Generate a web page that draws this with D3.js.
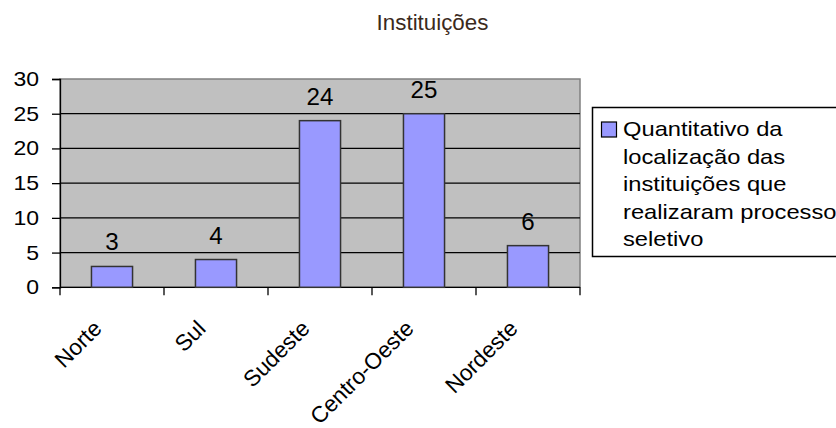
<!DOCTYPE html>
<html>
<head>
<meta charset="utf-8">
<script src="https://cdn.jsdelivr.net/npm/d3@7"></script>
<style>
  html, body { margin: 0; padding: 0; background: #ffffff; }
  svg { display: block; }
  text { font-family: "Liberation Sans", Arial, sans-serif; }
</style>
</head>
<body>
<svg id="chart" width="836" height="428"></svg>
<script>
// Regions and the number of institutions in each
const categories = ["Norte", "Sul", "Sudeste", "Centro-Oeste", "Nordeste"];
const values = [3, 4, 24, 25, 6];
const yTicks = [0, 5, 10, 15, 20, 25, 30];
const titleText = "Instituições";
const legendLines = ["Quantitativo da", "localização das", "instituições que", "realizaram processo", "seletivo"];

const svg = d3.select("#chart");

const plot = { left: 60, right: 580, top: 79, bottom: 287.3 };

const x = d3.scaleBand().domain(categories).range([plot.left, plot.right]);
const y = d3.scaleLinear().domain([0, 30]).range([plot.bottom, plot.top]);
const barW = x.bandwidth() * 0.395;

// text placed in a group so it can be widened horizontally
function label(parent, px, py, sx, str, opts) {
  const g = parent.append("g")
    .attr("transform", `translate(${px},${py}) scale(${sx},1)` + (opts.rotate ? ` rotate(${opts.rotate})` : ""));
  return g.append("text")
    .attr("x", 0).attr("y", 0)
    .attr("text-anchor", opts.anchor || "start")
    .attr("font-size", opts.size)
    .attr("fill", opts.fill || "#000")
    .text(str);
}

// title
label(svg, 432.5, 30, 1.04, titleText, { anchor: "middle", size: 21.5, fill: "#3b2a1c" });

// plot background
svg.append("rect")
  .attr("x", plot.left).attr("y", plot.top)
  .attr("width", plot.right - plot.left).attr("height", plot.bottom - plot.top)
  .attr("fill", "#c0c0c0")
  .attr("stroke", "#808080").attr("stroke-width", 1.5);

// horizontal gridlines
svg.append("g").selectAll("line")
  .data(yTicks.filter(t => t > 0 && t < 30))
  .join("line")
  .attr("x1", plot.left).attr("x2", plot.right)
  .attr("y1", d => y(d)).attr("y2", d => y(d))
  .attr("stroke", "#000").attr("stroke-width", 1.2);

// y axis
const yAxis = svg.append("g")
  .attr("transform", `translate(${plot.left},0)`)
  .call(d3.axisLeft(y).tickValues(yTicks).tickSize(8).tickFormat(""));
yAxis.select(".domain").attr("stroke", "#000").attr("stroke-width", 1.3);
yAxis.selectAll(".tick line").attr("stroke", "#000").attr("stroke-width", 1.3);

const yLabels = svg.append("g");
yTicks.forEach(t => {
  label(yLabels, 39, y(t) + 7, 1.15, String(t), { anchor: "end", size: 20 });
});

// x axis line and ticks at category boundaries
const bounds = categories.map(c => x(c)).concat([plot.right]);
svg.append("line")
  .attr("x1", plot.left).attr("x2", plot.right)
  .attr("y1", plot.bottom).attr("y2", plot.bottom)
  .attr("stroke", "#000").attr("stroke-width", 1.3);
svg.append("g").selectAll("line")
  .data(bounds)
  .join("line")
  .attr("x1", d => d).attr("x2", d => d)
  .attr("y1", plot.bottom).attr("y2", plot.bottom + 8)
  .attr("stroke", "#000").attr("stroke-width", 1.3);

// bars
const data = categories.map((c, i) => ({ cat: c, val: values[i] }));
svg.append("g").selectAll("rect")
  .data(data)
  .join("rect")
  .attr("x", d => x(d.cat) + (x.bandwidth() - barW) / 2)
  .attr("y", d => y(d.val))
  .attr("width", barW)
  .attr("height", d => y(0) - y(d.val))
  .attr("fill", "#9999ff")
  .attr("stroke", "#333333").attr("stroke-width", 1.5);

// value labels
const vLabels = svg.append("g");
data.forEach(d => {
  label(vLabels, x(d.cat) + x.bandwidth() / 2, y(d.val) - 16, 1.05, String(d.val), { anchor: "middle", size: 23 });
});

// rotated category labels
const cLabels = svg.append("g");
categories.forEach(c => {
  label(cLabels, x(c) + x.bandwidth() / 2 - 9, 330, 1, c, { anchor: "end", size: 22.5, rotate: -45 });
});

// legend
const legend = svg.append("g");
legend.append("rect")
  .attr("x", 592.5).attr("y", 107.5)
  .attr("width", 300).attr("height", 149)
  .attr("fill", "#fff")
  .attr("stroke", "#000").attr("stroke-width", 1.5);
legend.append("rect")
  .attr("x", 601.5).attr("y", 122)
  .attr("width", 15).attr("height", 15)
  .attr("fill", "#9999ff")
  .attr("stroke", "#000").attr("stroke-width", 1.2);
legendLines.forEach((line, i) => {
  label(legend, 623, 136 + i * 27.5, 1.13, line, { anchor: "start", size: 21 });
});
</script>
</body>
</html>
